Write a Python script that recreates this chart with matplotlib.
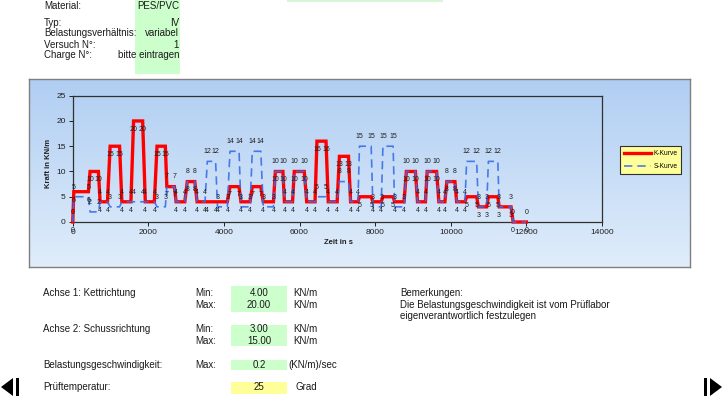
import matplotlib
matplotlib.use('Agg')
import matplotlib.pyplot as plt
import numpy as np
from matplotlib.patches import Rectangle, Polygon

plt.rcParams['font.family'] = ['Liberation Sans', 'DejaVu Sans']

# ---------------- data ----------------
plateau_start = [30, 460, 725, 990, 1300, 1610, 1920, 2230, 2490, 2735, 3030, 3290, 3560, 3830,
                 4160, 4450, 4750, 5040, 5360, 5600, 5860, 6190, 6460, 6760, 7055, 7350, 7585,
                 7940, 8205, 8515, 8825, 9120, 9375, 9685, 9895, 10155, 10420, 10730, 10995,
                 11280, 11650]
plateau_end = [415, 680, 920, 1240, 1540, 1850, 2160, 2450, 2690, 2965, 3230, 3500, 3780, 4090,
               4400, 4690, 4975, 5310, 5560, 5815, 6125, 6410, 6700, 6995, 7295, 7545, 7895,
               8160, 8475, 8765, 9065, 9330, 9625, 9845, 10110, 10375, 10685, 10950, 11245,
               11595, 12000]
k_level = [6, 10, 4, 15, 4, 20, 4, 15, 7, 4, 8, 4, 4, 4, 7, 4, 7, 4, 10, 4, 10, 4, 16, 4, 13,
           4, 5, 4, 5, 4, 10, 4, 10, 4, 8, 4, 5, 3, 5, 3, 0]
s_level = [5, 2, 4, 3, 4, 4, 4, 3, 7, 4, 8, 4, 12, 3, 14, 3, 14, 3, 10, 4, 10, 4, 5, 4, 8,
           4, 15, 3, 15, 3, 10, 4, 10, 4, 8, 4, 12, 3, 12, 3, 0]
start_point = (0, 0, 0)

x_ticks = [0, 2000, 4000, 6000, 8000, 10000, 12000, 14000]
y_ticks = [0, 5, 10, 15, 20, 25]

header_labels = ['Material:', 'Typ:', 'Belastungsverhältnis:', 'Versuch N°:', 'Charge N°:']
header_values = ['PES/PVC', 'IV', 'variabel', '1', 'bitte eintragen']

axis_min = ['4.00', '3.00']
axis_max = ['20.00', '15.00']
speed_max = '0.2'
temperature = '25'

# build point sequences
t_pts = [start_point[0]]
k_pts = [start_point[1]]
s_pts = [start_point[2]]
for a, b, kv, sv in zip(plateau_start, plateau_end, k_level, s_level):
    t_pts += [a, b]
    k_pts += [kv, kv]
    s_pts += [sv, sv]

# ---------------- figure ----------------
W, H = 723, 397
fig = plt.figure(figsize=(W / 100, H / 100), dpi=100)
fig.patch.set_facecolor('white')


def fx(px):
    return px / W


def fy(py):
    return 1 - py / H


def rect(x0, y0, x1, y1, fc, ec='none', lw=0, z=0):
    fig.add_artist(Rectangle((fx(x0), fy(y1)), (x1 - x0) / W, (y1 - y0) / H,
                             transform=fig.transFigure, facecolor=fc, edgecolor=ec,
                             linewidth=lw, zorder=z))


def txt(x, y, s, ha='left', size=7, **kw):
    fig.text(fx(x), fy(y), s, ha=ha, va='center', fontsize=size, color='#1a1a1a', **kw)


# header block
rect(135, 0, 180, 74, '#ccffcc')
rect(287, 0, 443, 2, '#d8f5d8')
header_y = [6, 23, 33.5, 44.5, 55]
for lab, val, yy in zip(header_labels, header_values, header_y):
    txt(44, yy, lab)
    txt(179, yy, val, ha='right')

# chart background with gradient
ax_bg = fig.add_axes([fx(29), fy(267), (690 - 29) / W, (267 - 79) / H])
top = np.array([176, 206, 242]) / 255
bot = np.array([224, 237, 251]) / 255
frac = np.linspace(0, 1, 200)[:, None, None]
grad = top * (1 - frac) + bot * frac
ax_bg.imshow(grad, aspect='auto', extent=[0, 1, 0, 1], interpolation='bilinear')
ax_bg.set_xticks([])
ax_bg.set_yticks([])
for sp in ax_bg.spines.values():
    sp.set_color('#7f7f7f')
    sp.set_linewidth(1.0)

# main plot
ax = fig.add_axes([fx(72.7), fy(222), (602 - 72.7) / W, (222 - 95.7) / H])
ax.patch.set_alpha(0)
ax.set_xlim(0, 14000)
ax.set_ylim(0, 25)
ax.set_xticks(x_ticks)
ax.set_yticks(y_ticks)
ax.set_xticklabels([str(v) for v in x_ticks])
ax.set_yticklabels([str(v) for v in y_ticks])
ax.tick_params(axis='both', labelsize=6, length=3, width=0.7, colors='#202020', pad=2)
for sp in ax.spines.values():
    sp.set_color('#303030')
    sp.set_linewidth(0.9)

line_k, = ax.plot(t_pts, k_pts, color='#ff0000', lw=2.4, solid_joinstyle='miter',
                  label='K-Kurve', zorder=3, clip_on=False)
line_s, = ax.plot(t_pts, s_pts, color='#3a6ee8', lw=1.2, dashes=(5, 3), alpha=0.9,
                  label='S-Kurve', zorder=4, clip_on=False)

for t, v in zip(t_pts, k_pts):
    ax.annotate(str(v), (t, v), xytext=(0, -6), textcoords='offset points',
                ha='center', va='center', fontsize=5, color='#202020', zorder=5)
for t, v in zip(t_pts, s_pts):
    ax.annotate(str(v), (t, v), xytext=(0, 7), textcoords='offset points',
                ha='center', va='center', fontsize=5, color='#202020', zorder=5)

fig.text(fx(48), fy(163), 'Kraft in KN/m', rotation=90, ha='center', va='center',
         fontsize=5.5, fontweight='bold', color='#202020')
fig.text(fx(338), fy(243), 'Zeit in s', ha='center', va='center',
         fontsize=5.5, fontweight='bold', color='#202020')

leg = ax.legend(handles=[line_k, line_s], loc='upper left',
                bbox_to_anchor=(fx(620), fy(146)), bbox_transform=fig.transFigure,
                borderaxespad=0, fancybox=False, framealpha=1, facecolor='#ffff99',
                edgecolor='#303030', fontsize=4.8, handlelength=4, handletextpad=0.4,
                borderpad=0.6, labelspacing=0.9)
leg.get_frame().set_linewidth(0.8)

# bottom block
rect(231, 286, 287, 312, '#ccffcc')
rect(231, 325, 287, 346, '#ccffcc')
rect(231, 360, 287, 370, '#ccffcc')
rect(231, 382, 287, 394, '#ffff99')

txt(43, 292.5, 'Achse 1: Kettrichtung')
txt(43, 329.5, 'Achse 2: Schussrichtung')
txt(43, 364.5, 'Belastungsgeschwindigkeit:')
txt(43, 387.5, 'Prüftemperatur:')

rows_min = [292.5, 329.5]
rows_max = [305, 341]
for i in range(2):
    txt(195, rows_min[i], 'Min:')
    txt(259, rows_min[i], axis_min[i], ha='center')
    txt(293, rows_min[i], 'KN/m')
    txt(195, rows_max[i], 'Max:')
    txt(259, rows_max[i], axis_max[i], ha='center')
    txt(293, rows_max[i], 'KN/m')
txt(195, 364.5, 'Max:')
txt(259, 364.5, speed_max, ha='center')
txt(288, 364.5, '(KN/m)/sec')
txt(259, 387.5, temperature, ha='center')
txt(295, 387.5, 'Grad')

txt(400, 293, 'Bemerkungen:')
txt(400, 304.5, 'Die Belastungsgeschwindigkeit ist vom Prüflabor')
txt(400, 316, 'eigenverantwortlich festzulegen')

# navigation arrows
fig.add_artist(Polygon([(fx(1), fy(387)), (fx(13), fy(378)), (fx(13), fy(396))],
                       closed=True, transform=fig.transFigure, facecolor='black', edgecolor='none'))
rect(16, 378, 19, 396, 'black')
rect(704, 378, 707, 396, 'black')
fig.add_artist(Polygon([(fx(710), fy(378)), (fx(710), fy(396)), (fx(722), fy(387))],
                       closed=True, transform=fig.transFigure, facecolor='black', edgecolor='none'))

fig.savefig('out.png', dpi=100, facecolor='white')
